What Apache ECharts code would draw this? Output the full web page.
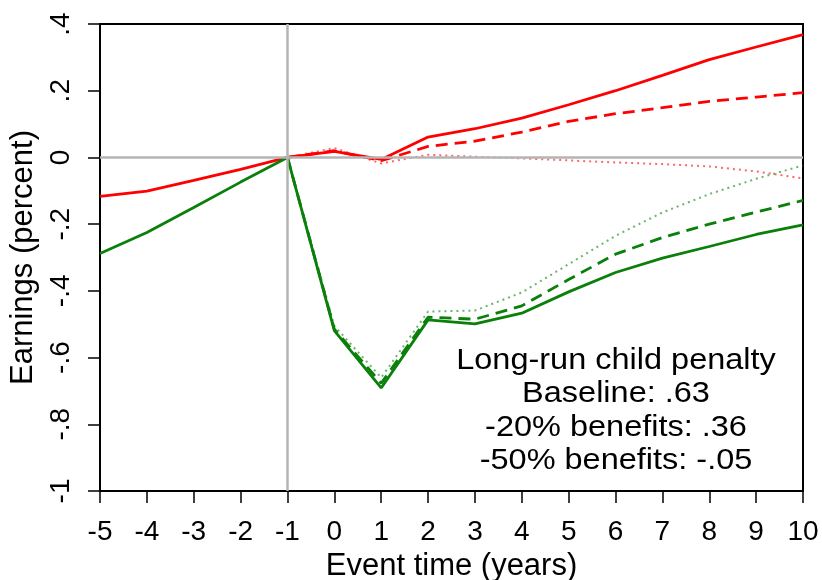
<!DOCTYPE html>
<html>
<head>
<meta charset="utf-8">
<script src="https://cdn.jsdelivr.net/npm/echarts@6/dist/echarts.min.js"></script>
<style>
html,body{margin:0;padding:0;background:#fff;}
#chart{width:822px;height:580px;}
</style>
</head>
<body>
<div id="chart"></div>
<script>
// Event time (years)
var eventTime = [-5, -4, -3, -2, -1, 0, 1, 2, 3, 4, 5, 6, 7, 8, 9, 10];
// Men (red)
var menBaseline = [-0.117, -0.101, -0.069, -0.036, 0, 0.018, -0.006, 0.061, 0.086, 0.118, 0.158, 0.200, 0.246, 0.293, 0.331, 0.368];
var menMinus20  = [null, null, null, null, 0, 0.020, -0.010, 0.033, 0.049, 0.076, 0.108, 0.131, 0.149, 0.168, 0.181, 0.194];
var menMinus50  = [null, null, null, null, 0, 0.028, -0.018, 0.008, 0.002, -0.003, -0.009, -0.015, -0.020, -0.027, -0.042, -0.063];
// Women (green)
var womenBaseline = [-0.288, -0.225, -0.150, -0.074, 0, -0.519, -0.691, -0.487, -0.499, -0.467, -0.403, -0.345, -0.302, -0.267, -0.231, -0.202];
var womenMinus20  = [null, null, null, null, 0, -0.515, -0.677, -0.479, -0.485, -0.445, -0.366, -0.290, -0.240, -0.200, -0.164, -0.129];
var womenMinus50  = [null, null, null, null, 0, -0.505, -0.660, -0.462, -0.459, -0.405, -0.320, -0.235, -0.165, -0.110, -0.064, -0.024];
// Tick labels
var yTickValues = [0.4, 0.2, 0, -0.2, -0.4, -0.6, -0.8, -1];
var yTickLabels = ['.4', '.2', '0', '-.2', '-.4', '-.6', '-.8', '-1'];
var annotationLines = ['Long-run child penalty', 'Baseline: .63', '-20% benefits: .36', '-50% benefits: -.05'];

function pairs(vals) {
  return eventTime.map(function (t, i) { return [t, vals[i]]; });
}
function yLabel(v) {
  for (var i = 0; i < yTickValues.length; i++) {
    if (Math.abs(yTickValues[i] - v) < 1e-6) return yTickLabels[i];
  }
  return '';
}

var FONT = '"Liberation Sans", Arial, sans-serif';
var RED = '#ff0000', GREEN = '#0a800a';

function lineSeries(name, vals, color, type, width, opacity) {
  return {
    name: name, type: 'line', data: pairs(vals), symbol: 'none',
    connectNulls: false,
    lineStyle: { color: color, width: width, type: type, opacity: opacity },
    z: 3
  };
}

var chart = echarts.init(document.getElementById('chart'), null, { renderer: 'canvas' });
chart.setOption({
  animation: false,
  backgroundColor: '#fff',
  grid: { left: 100, right: 19, top: 24, bottom: 89, outerBoundsMode: 'none', containLabel: false,
          show: true, borderColor: '#000', borderWidth: 2, backgroundColor: 'transparent' },
  xAxis: {
    type: 'value', min: -5, max: 10, interval: 1,
    name: 'Event time (years)', nameLocation: 'middle', nameGap: 58,
    nameTextStyle: { fontFamily: FONT, fontSize: 31, color: '#000' },
    axisLine: { show: true, onZero: false, lineStyle: { color: '#000', width: 2 } },
    axisTick: { show: true, inside: false, length: 12, lineStyle: { color: '#000', width: 1.5 } },
    axisLabel: { fontFamily: FONT, fontSize: 28, color: '#000', margin: 27 },
    splitLine: { show: false }
  },
  yAxis: {
    type: 'value', min: -1, max: 0.4, interval: 0.2,
    name: 'Earnings (percent)', nameLocation: 'middle', nameGap: 60, nameRotate: 90,
    nameTextStyle: { fontFamily: FONT, fontSize: 31, color: '#000' },
    axisLine: { show: true, onZero: false, lineStyle: { color: '#000', width: 2 } },
    axisTick: { show: true, inside: false, length: 12, lineStyle: { color: '#000', width: 1.5 } },
    axisLabel: { fontFamily: FONT, fontSize: 28, color: '#000', margin: 25, rotate: 90, formatter: yLabel },
    splitLine: { show: false }
  },
  series: [
    {
      name: 'ref', type: 'line', data: [], z: 1,
      markLine: {
        silent: true, symbol: 'none', label: { show: false },
        lineStyle: { color: '#b4b4b4', width: 2.5, type: 'solid' },
        data: [{ xAxis: -1 }, { yAxis: 0 }]
      }
    },
    lineSeries('Men -50%', menMinus50, RED, [2, 4], 2, 0.6),
    lineSeries('Women -50%', womenMinus50, GREEN, [2, 4], 2, 0.6),
    lineSeries('Men -20%', menMinus20, RED, [12, 7], 2.8, 1),
    lineSeries('Women -20%', womenMinus20, GREEN, [12, 7], 2.8, 1),
    lineSeries('Men baseline', menBaseline, RED, 'solid', 2.8, 1),
    lineSeries('Women baseline', womenBaseline, GREEN, 'solid', 2.8, 1)
  ],
  graphic: [{
    type: 'text', x: 616, y: 411, scaleX: 1.12, originX: 0, originY: 0, z: 10,
    style: {
      text: annotationLines.join('\n'),
      font: '29px ' + FONT, fill: '#000',
      textAlign: 'center', textVerticalAlign: 'middle', lineHeight: 33.3
    }
  }]
});
</script>
</body>
</html>
